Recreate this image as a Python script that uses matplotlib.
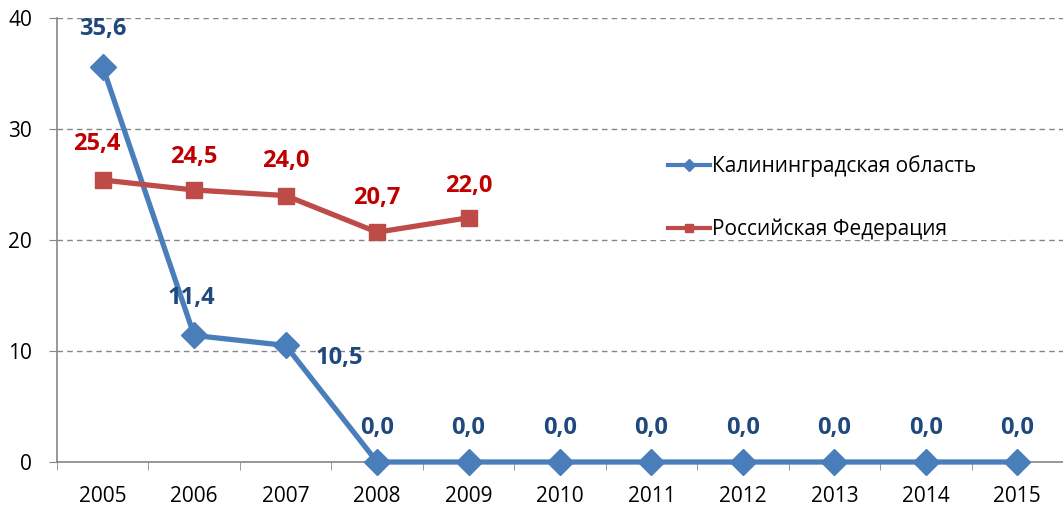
import matplotlib.pyplot as plt
from matplotlib.ticker import FixedLocator
from matplotlib.patches import Rectangle

plt.rcParams['font.family'] = ['Open Sans', 'DejaVu Sans']

years = ['2005', '2006', '2007', '2008', '2009', '2010', '2011', '2012', '2013', '2014', '2015']
kaliningrad = [35.6, 11.4, 10.5, 0.0, 0.0, 0.0, 0.0, 0.0, 0.0, 0.0, 0.0]
russia = [25.4, 24.5, 24.0, 20.7, 22.0]
kal_name = 'Калининградская область'
rus_name = 'Российская Федерация'

blue = '#4A7EBB'
red = '#BE4B48'
blue_txt = '#1F497D'
red_txt = '#C00000'
axis_gray = '#868686'

fig = plt.figure(figsize=(10.63, 5.11), dpi=100)
ax = fig.add_axes([0.0536, 0.0959, 0.9464, 0.869])

x_k = list(range(len(kaliningrad)))
x_r = list(range(len(russia)))

ax.plot(x_k, kaliningrad, color=blue, lw=3.8, marker='D', markersize=13,
        markerfacecolor=blue, markeredgecolor=blue, label=kal_name, zorder=3, clip_on=False)
ax.plot(x_r, russia, color=red, lw=3.8, marker='s', markersize=11,
        markerfacecolor=red, markeredgecolor=red, label=rus_name, zorder=3, clip_on=False)

# data labels
kal_offsets = [(0, 27), (-2, 27), (39, -9)] + [(0, 24.5)] * 8
for x, v, off in zip(x_k, kaliningrad, kal_offsets):
    ax.annotate(f'{v:.1f}'.replace('.', ','), (x, v), xytext=off, textcoords='offset points',
                ha='center', va='center', fontsize=17, fontweight='bold', color=blue_txt)
red_offsets = [(-4, 26), (0, 24), (0, 25), (0, 24.5), (0, 23)]
for x, v, off in zip(x_r, russia, red_offsets):
    ax.annotate(f'{v:.1f}'.replace('.', ','), (x, v), xytext=off, textcoords='offset points',
                ha='center', va='center', fontsize=17, fontweight='bold', color=red_txt)

ax.set_xlim(-0.5, len(years) - 0.5)
ax.set_ylim(0, 40)
ax.set_xticks(x_k)
ax.set_xticklabels(years)
ax.xaxis.set_minor_locator(FixedLocator([i + 0.5 for i in range(-1, len(years))]))
ax.tick_params(axis='x', which='major', length=0, pad=17, labelsize=15)
ax.tick_params(axis='x', which='minor', length=6, color=axis_gray, direction='out')
ax.set_yticks([0, 10, 20, 30, 40])
ax.tick_params(axis='y', length=6, color=axis_gray, pad=12, labelsize=15)

ax.yaxis.grid(True, linestyle=(0, (4, 3)), color=axis_gray, lw=1)
ax.set_axisbelow(True)
for s in ['top', 'right']:
    ax.spines[s].set_visible(False)
for s in ['left', 'bottom']:
    ax.spines[s].set_color(axis_gray)
    ax.spines[s].set_linewidth(1.2)

# white legend background that hides part of the gridline
ax.add_patch(Rectangle((0.5696, 0.5), 0.3827, 0.2297, transform=ax.transAxes,
                       facecolor='white', edgecolor='none', zorder=1.5))

leg = ax.legend(loc='upper left', bbox_to_anchor=(0.5975, 0.7139), frameon=False,
                fontsize=15, labelspacing=2.0, handlelength=2.0, handletextpad=0.1,
                borderpad=0.5, borderaxespad=0, markerscale=0.5)
for h in leg.legend_handles:
    h.set_linewidth(3)

fig.savefig('out.png', dpi=100)
